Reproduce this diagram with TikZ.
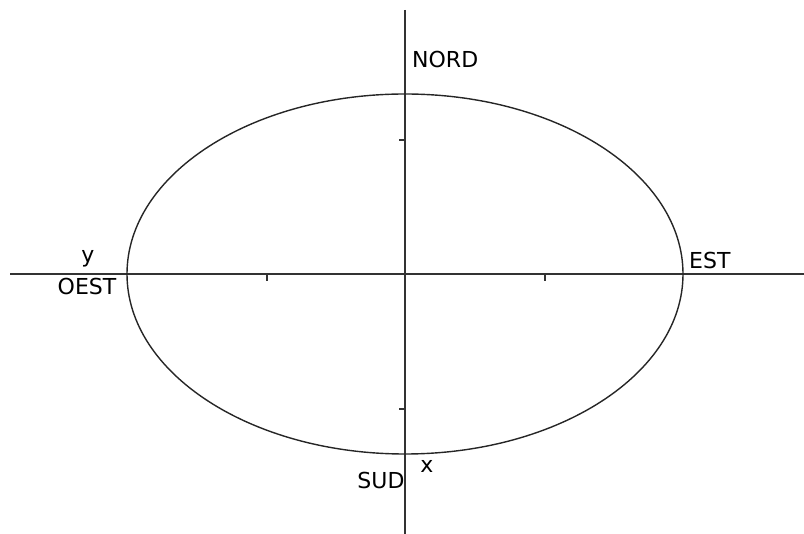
\documentclass[tikz,border=0pt]{standalone}
\usepackage{fontspec}
\setmainfont{DejaVu Sans}
\usetikzlibrary{positioning}

\begin{document}
\begin{tikzpicture}[x=1pt, y=-1pt]
    % Styles
    \tikzstyle{axis} = [line width=1.1pt, black!80]
    \tikzstyle{orbit} = [line width=1.4pt, black!85]
    \tikzstyle{tick} = [line width=1.6pt, black!80]
    \tikzstyle{label} = [inner sep=0pt, font=\fontsize{22}{25}\selectfont]

    \useasboundingbox (0,0) rectangle (804,534);

    % Axes
    \coordinate (o) at (405,274);
    \coordinate (west) at (10,274);
    \coordinate (east) at (804,274);
    \coordinate (top) at (405,10);
    \coordinate (bottom) at (405,534);
    \draw [axis] (west) -- (east);
    \draw [axis] (top) -- (bottom);

    % Ticks
    \draw [tick] (399,140) -- (405,140);
    \draw [tick] (399,409) -- (405,409);
    \draw [tick] (267,274) -- (267,281);
    \draw [tick] (545,274) -- (545,281);

    % Ellipse
    \draw [orbit] (o) ellipse [x radius=278, y radius=180];

    % Labels
    \node [label, anchor=west] (nord) at (412,59) {NORD};
    \node [label, anchor=west] (est) at (689,260) {EST};
    \node [label] (ylab) at (88,259) {y};
    \node [label] (oest) at (87,286) {OEST};
    \node [label] (sud) at (381,480) {SUD};
    \node [label] (xlab) at (427,466) {x};
\end{tikzpicture}
\end{document}
